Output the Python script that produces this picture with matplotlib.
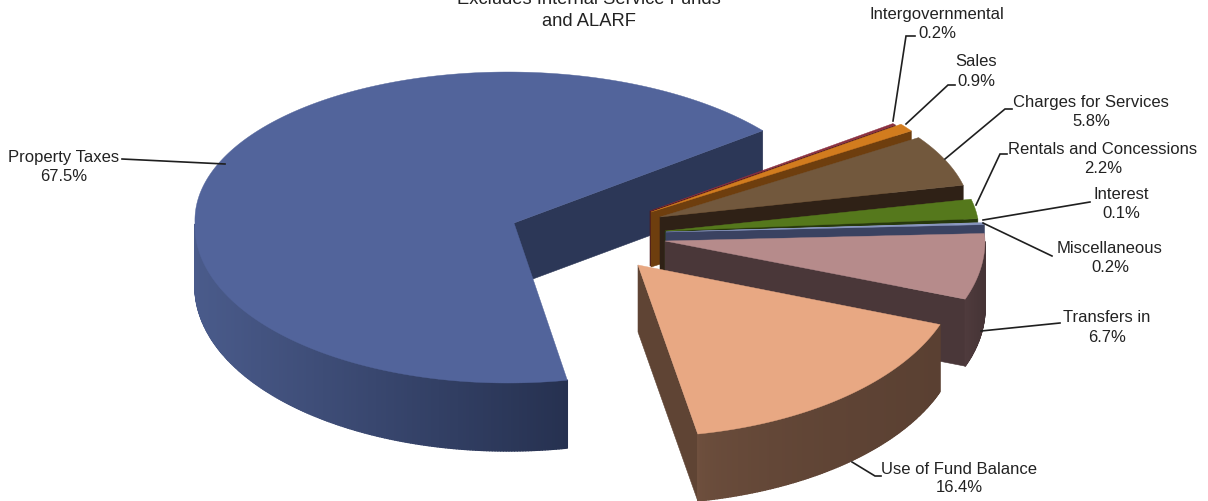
#!/usr/bin/env python3
"""Exploded 3-D style pie of revenue sources, projected by hand onto flat axes."""
import numpy as np
import matplotlib
matplotlib.use("Agg")
import matplotlib.pyplot as plt
from matplotlib.colors import to_rgb
from matplotlib.patches import Polygon

plt.rcParams["font.family"] = ["Liberation Sans", "DejaVu Sans"]

# slices, counter-clockwise from the start of Property Taxes on the ellipse
NAMES = ["Property Taxes", "Use of Fund Balance", "Transfers in", "Miscellaneous", "Interest",
         "Rentals and Concessions", "Charges for Services", "Sales", "Intergovernmental"]
SHARES = [67.5, 16.4, 6.7, 0.2, 0.1, 2.2, 5.8, 0.9, 0.2]
START_DEG = 37.7

# projection of each slice: apex, radii, height
APEX_X = [514, 638, 665, 666, 666, 665, 660, 651, 650]
APEX_Y = [224, 266, 242, 233, 233, 232, 218, 213, 212]
RAD_X = [319, 322, 320, 319, 319, 314, 311, 313, 307]
RAD_BACK = [151, 172, 112, 110, 110, 143, 143, 146, 143]
RAD_FRONT = [160, 172, 168, 110, 110, 143, 143, 146, 143]
SKEW = [6, 0, 0, 0, 0, 0, 0, 0, 0]
DEPTH = [60, 67, 67, 60, 60, 60, 60, 55, 55]
FLARE = [8, 0, 0, 0, 0, 0, 0, 0, 0]
FACE_DEPTH = [63, 67, 67, 60, 60, 60, 60, 55, 55]

TOP_COLORS = ["#52649b", "#e8a883", "#b68b8b", "#8c9ac4", "#96a3cc",
              "#55781c", "#72583d", "#d27c1e", "#8b3040"]
FACE_COLORS = ["#2c3757", "#5f4434", "#4a3739", "#3a4261", "#3a4261",
               "#27380d", "#2f2116", "#6e3e0e", "#4a1820"]
WALL_LIGHT = ["#4a5b8b", "#6f503e", "#4f3b3d", "#3a4261", "#3a4261",
              "#27380d", "#2f2116", "#6e3e0e", "#4a1820"]
WALL_DARK = ["#263150", "#5a4032", "#463436", "#3a4261", "#3a4261",
             "#27380d", "#2f2116", "#6e3e0e", "#4a1820"]
WALL_GAMMA = [1.0, 0.5, 1.0, 1.0, 1.0, 1.0, 1.0, 1.0, 1.0]

# labels: name position, value position, leader line
LABEL_X = [64, 959, 1107, 1110, 1121, 1103, 1091, 976, 937]
NAME_Y = [158, 470, 318, 249, 195, 150, 103, 62, 15]
VALUE_Y = [177, 488, 338, 268, 214, 169, 122, 81, 33]
LEADERS = [[(225, 165), (122, 160)],
           [(852, 463), (875, 477), (881, 477)],
           [(981, 332), (1060, 324)],
           [(983, 224), (1052, 257)],
           [(983, 221), (1090, 203)],
           [(976, 206), (1000, 155), (1007, 155)],
           [(945, 160), (1005, 110), (1012, 110)],
           [(906, 125), (948, 86), (955, 86)],
           [(893, 122), (906, 37), (915, 37)]]
# painter's order: back of the pie first, front slices last
DRAW_ORDER = [0, 8, 7, 6, 5, 4, 3, 2, 1]


def rim(i, theta):
    """Project rim angles (radians) of slice i onto pixel coordinates."""
    s = np.sin(theta)
    radius_y = np.where(s > 0, RAD_BACK[i], RAD_FRONT[i])
    return APEX_X[i] + RAD_X[i] * np.cos(theta) - SKEW[i] * np.abs(s), APEX_Y[i] - radius_y * s


def draw_slice(ax, i, t0, t1):
    top = to_rgb(TOP_COLORS[i])
    light, dark = np.array(to_rgb(WALL_LIGHT[i])), np.array(to_rgb(WALL_DARK[i]))
    theta = np.linspace(t0, t1, max(8, int(np.degrees(t1 - t0) * 2)))
    xs, ys = rim(i, theta)

    # inner cut face, visible only when it turns towards the viewer
    if np.cos(t0) > 0:
        x0, y0 = rim(i, np.array([t0]))
        ax.add_patch(Polygon([(APEX_X[i], APEX_Y[i]), (x0[0], y0[0]),
                              (x0[0], y0[0] + FACE_DEPTH[i]),
                              (APEX_X[i], APEX_Y[i] + FACE_DEPTH[i])],
                             fc=FACE_COLORS[i], ec=FACE_COLORS[i], lw=0.4))

    # outer wall in thin shaded strips, front half of the rim only;
    # the one-pixel outline closes the seams between neighbouring strips
    front = np.sin(theta) <= 0
    if front.sum() > 1:
        tf, xf, yf = theta[front], xs[front], ys[front]
        drop = DEPTH[i] - FLARE[i] * np.sin(tf)
        mix = (xf - xf.min()) / max(1.0, xf.max() - xf.min())
        for k in range(len(tf) - 1):
            c = light + (dark - light) * mix[k] ** WALL_GAMMA[i]
            ax.add_patch(Polygon([(xf[k], yf[k]), (xf[k + 1], yf[k + 1]),
                                  (xf[k + 1], yf[k + 1] + drop[k + 1]),
                                  (xf[k], yf[k] + drop[k])], fc=c, ec=c, lw=1.0,
                                 joinstyle="round"))

    ax.add_patch(Polygon(np.vstack([[APEX_X[i], APEX_Y[i]], np.column_stack([xs, ys])]),
                         fc=top, ec=top, lw=0.3))


fig = plt.figure(figsize=(12.08, 5.02), dpi=100)
ax = fig.add_axes([0, 0, 1, 1])
ax.set_xlim(0, 1208)
ax.set_ylim(502, 0)
ax.axis("off")

edges = np.radians(START_DEG + np.cumsum(np.r_[0, np.array(SHARES) * 3.6]))
for i in DRAW_ORDER:
    draw_slice(ax, i, edges[i], edges[i + 1])

for i, name in enumerate(NAMES):
    px, py = zip(*LEADERS[i])
    ax.plot(px, py, color="#1f1f1f", lw=1.2, solid_joinstyle="miter", zorder=5)
    ax.text(LABEL_X[i], NAME_Y[i], name, ha="center", va="center", fontsize=12, color="#222222")
    ax.text(LABEL_X[i], VALUE_Y[i], f"{SHARES[i]:.1f}%", ha="center", va="center",
            fontsize=12, color="#222222")

# the heading runs off the top edge of the figure
ax.text(589, -1, "Excludes Internal Service Funds", ha="center", va="center",
        fontsize=13.2, color="#222222")
ax.text(589, 22, "and ALARF", ha="center", va="center", fontsize=13.2, color="#222222")

fig.savefig("out.png", dpi=100)
